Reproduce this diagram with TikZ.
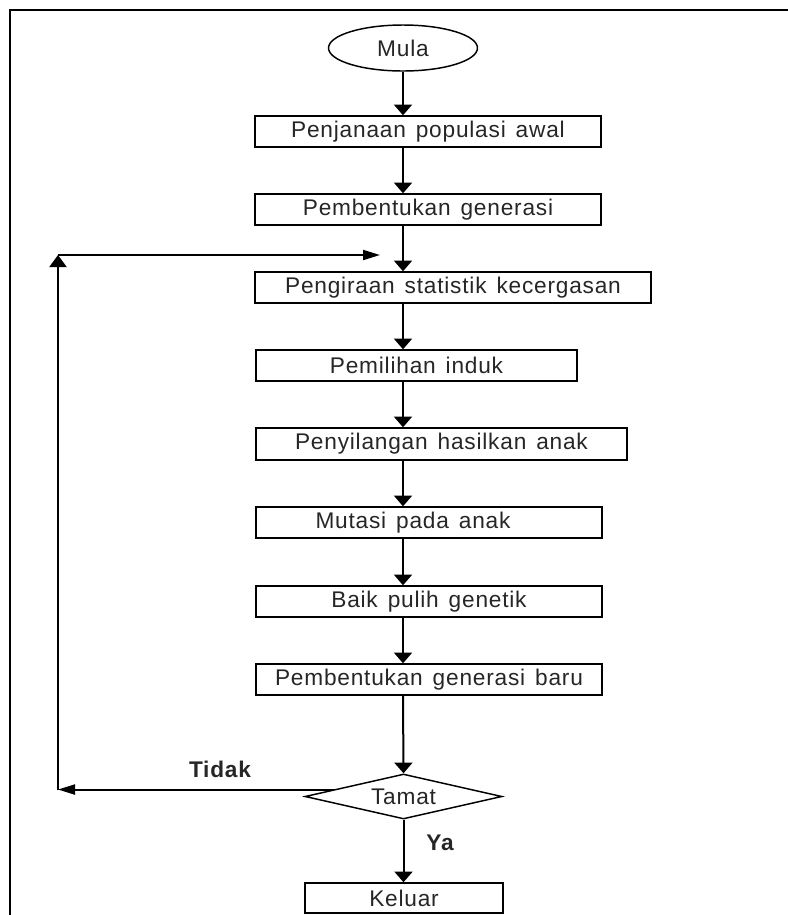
\documentclass[tikz,border=0pt]{standalone}
\usepackage{fontspec}
\setmainfont{Liberation Sans}[LetterSpace=3.5,WordSpace=1.4]
\usetikzlibrary{shapes.geometric,arrows.meta,calc}

\tikzset{
  box/.style={draw, rectangle, line width=1.1pt, inner sep=0pt, minimum height=23.25pt, text=black!85, font=\fontsize{17}{20}\selectfont},
  terminal/.style={draw, ellipse, line width=1.1pt, inner sep=0pt, minimum width=111.75pt, minimum height=34.5pt, text=black!85, font=\fontsize{17}{20}\selectfont},
  decision/.style={draw, diamond, aspect=4.4, line width=1.1pt, inner sep=0pt, minimum width=147.75pt, minimum height=33.75pt, text=black!85, font=\fontsize{17}{20}\selectfont},
  flow/.style={line width=1.5pt, -{Triangle[length=8pt,width=13.5pt]}},
  backline/.style={line width=1.5pt},
  lbl/.style={text=black!85, font=\fontsize{17}{20}\selectfont\bfseries}
}

\begin{document}
\begin{tikzpicture}[x=0.75pt, y=-0.75pt]
\useasboundingbox (0,0) rectangle (788,915);

% frame (only top and left side show)
\draw[line width=1.6pt] (788,10) -- (10,10) -- (10,915);

\node[terminal] (mula) at (403,48) {Mula};
\node[box, minimum width=259.5pt] (penjanaan) at (428,131.5) {Penjanaan populasi awal};
\node[box, minimum width=259.5pt] (generasi) at (428,209.5) {Pembentukan generasi};
\node[box, minimum width=297pt] (pengiraan) at (453,287.5) {Pengiraan statistik kecergasan};
\node[box, minimum width=240.75pt] (pemilihan) at (416.5,365.5) {Pemilihan induk};
\node[box, minimum width=278.25pt, minimum height=24pt] (penyilangan) at (441.5,444) {Penyilangan hasilkan anak};
\node[box, minimum width=259.5pt] (mutasi) at (429,522.5) {Mutasi pada anak\rule{24pt}{0pt}};
\node[box, minimum width=259.5pt] (baikpulih) at (429,601.5) {Baik pulih genetik};
\node[box, minimum width=259.5pt] (baru) at (429,679.5) {Pembentukan generasi baru};
\node[decision] (tamat) at (403.5,796.5) {Tamat};
\node[box, minimum width=148.5pt, minimum height=22.5pt] (keluar) at (404,898) {Keluar};

% main line
\coordinate (spine) at (403,0);
\draw[flow] (mula) -- (spine |- penjanaan.north);
\draw[flow] (spine |- penjanaan.south) -- (spine |- generasi.north);
\draw[flow] (spine |- generasi.south) -- (spine |- pengiraan.north);
\draw[flow] (spine |- pengiraan.south) -- (spine |- pemilihan.north);
\draw[flow] (spine |- pemilihan.south) -- (spine |- penyilangan.north);
\draw[flow] (spine |- penyilangan.south) -- (spine |- mutasi.north);
\draw[flow] (spine |- mutasi.south) -- (spine |- baikpulih.north);
\draw[flow] (spine |- baikpulih.south) -- (spine |- baru.north);
\draw[flow] (spine |- baru.south) -- (tamat.north);
\draw[flow] (tamat.south) -- (tamat.south |- keluar.north);

% loop back
\coordinate (looptop) at (58,255);
\coordinate (loopend) at (380,255);
\coordinate (tidakstart) at ($(tamat.west)!0.3!(tamat.north)$);
\coordinate (loopbot) at (looptop |- tidakstart);
\draw[backline, -{Triangle[length=12.75pt,width=7.5pt]}] (tidakstart) -- (loopbot);
\draw[backline, -{Triangle[length=9pt,width=12.75pt]}] (loopbot) -- (looptop);
\draw[backline, -{Triangle[length=12.75pt,width=7.5pt]}] (looptop) -- (loopend);

\node[lbl] (tidak) at (220,769) {Tidak};
\node[lbl] (ya) at (440,843) {Ya};

\end{tikzpicture}
\end{document}
